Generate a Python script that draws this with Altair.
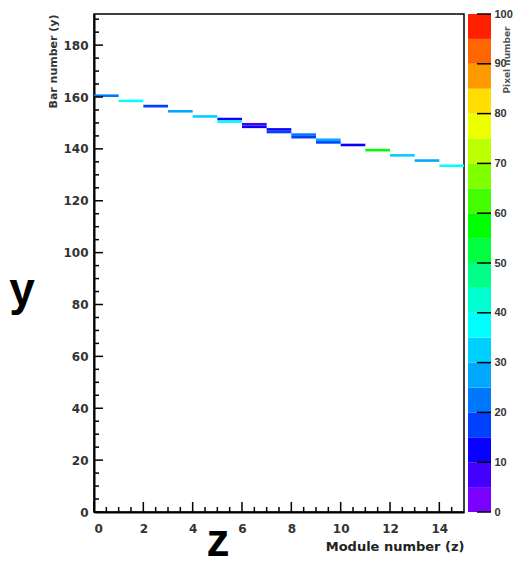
import altair as alt
import pandas as pd

# ---- data ----
modules = [0, 1, 2, 3, 4, 5, 5, 6, 6, 7, 7, 8, 8, 9, 9, 10, 11, 12, 13, 14]
bars = [160, 158, 156, 154, 152, 151, 150, 149, 148, 147, 146, 145, 144, 143, 142, 141, 139, 137, 135, 133]
pixels = [22, 36, 16, 27, 32, 12, 36, 7, 14, 13, 17, 22, 16, 27, 17, 11, 57, 31, 28, 38]

level_lo = [0, 5, 10, 15, 20, 25, 30, 35, 40, 45, 50, 55, 60, 65, 70, 75, 80, 85, 90, 95]
level_colors = ["#7a00ff", "#4400ff", "#0a00ff", "#0040ff", "#0077ff", "#00a8ff", "#00d0ff",
                "#00ffff", "#00ffd0", "#00ff88", "#00ff40", "#00ff00", "#44ff00", "#80ff00",
                "#bbff00", "#eeff00", "#ffdd00", "#ff9900", "#ff6600", "#ff2000"]

x_major_ticks = [0, 2, 4, 6, 8, 10, 12, 14]
x_minor_ticks = [0.5, 1, 1.5, 2.5, 3, 3.5, 4.5, 5, 5.5, 6.5, 7, 7.5, 8.5, 9, 9.5,
                 10.5, 11, 11.5, 12.5, 13, 13.5, 14.5]
y_major_ticks = [0, 20, 40, 60, 80, 100, 120, 140, 160, 180]
y_minor_ticks = [v for v in range(5, 192, 5) if v % 20 != 0]
cbar_ticks = [0, 10, 20, 30, 40, 50, 60, 70, 80, 90, 100]

W, H = 370, 498
FONT = "DejaVu Sans"

cells = pd.DataFrame({
    "z": modules,
    "z2": [m + 1 for m in modules],
    "y": bars,
    "y2": [b + 1 for b in bars],
    "v": pixels,
})
levels = pd.DataFrame({
    "lo": level_lo,
    "hi": [l + 5 for l in level_lo],
    "c": level_colors,
})

xscale = alt.Scale(domain=[0, 15], nice=False, zero=False)
yscale = alt.Scale(domain=[0, 192], nice=False, zero=False)

xaxis = alt.Axis(values=x_major_ticks, format="d", title="Module number (z)", titleAnchor="end",
                 titleFont=FONT, titleFontSize=13, titleFontWeight="bold", titleColor="#222",
                 titlePadding=6,
                 labelFont=FONT, labelFontSize=12, labelFontWeight="bold", labelColor="#333",
                 labelPadding=11, tickSize=0, domainColor="black", domainWidth=2, grid=False)
yaxis = alt.Axis(values=y_major_ticks, format="d", title="Bar number (y)", titleAnchor="end",
                 titleFont=FONT, titleFontSize=11, titleFontWeight="bold", titleColor="#333",
                 titlePadding=4,
                 labelFont=FONT, labelFontSize=12, labelFontWeight="bold", labelColor="#333",
                 labelPadding=6, tickSize=0, domainColor="black", domainWidth=2, grid=False)

heat = alt.Chart(cells).mark_rect().encode(
    x=alt.X("z:Q", scale=xscale, axis=xaxis),
    x2="z2:Q",
    y=alt.Y("y:Q", scale=yscale, axis=yaxis),
    y2="y2:Q",
    color=alt.Color("v:Q", scale=alt.Scale(type="threshold", domain=level_lo[1:], range=level_colors),
                    legend=None),
)

def xticks(vals, length):
    return alt.Chart(pd.DataFrame({"z": vals})).mark_rule(color="black", strokeWidth=1.5).encode(
        x=alt.X("z:Q", scale=xscale, axis=xaxis),
        y=alt.value(H), y2=alt.value(H - length))

def yticks(vals, length):
    return alt.Chart(pd.DataFrame({"y": vals})).mark_rule(color="black", strokeWidth=1.5).encode(
        y=alt.Y("y:Q", scale=yscale, axis=yaxis),
        x=alt.value(0), x2=alt.value(length))

big_y = alt.Chart(pd.DataFrame({"t": ["y"]})).mark_text(
    fontSize=46, fontWeight="bold", font="Liberation Sans", align="center", baseline="alphabetic",
    color="black"
).encode(x=alt.value(-72), y=alt.value(291), text="t:N")
big_z = alt.Chart(pd.DataFrame({"t": ["z"]})).mark_text(
    fontSize=46, fontWeight="bold", font="Liberation Sans", align="center", baseline="alphabetic",
    color="black"
).encode(x=alt.value(124), y=alt.value(542), text="t:N")

main = alt.layer(
    heat,
    xticks(x_major_ticks, 10), xticks(x_minor_ticks, 5),
    yticks(y_major_ticks, 9), yticks(y_minor_ticks, 5),
    big_y, big_z,
).properties(width=W, height=H, view=alt.ViewBackground(stroke="black", strokeWidth=1.5))

cbscale = alt.Scale(domain=[0, 100], nice=False)
cbaxis = alt.Axis(orient="right", values=cbar_ticks, format="d", tickSize=0, domain=False,
                  labelPadding=3, labelFont="Liberation Sans", labelFontSize=11,
                  labelFontWeight="bold", labelColor="#333",
                  title="Pixel number", titleAngle=270, titleAnchor="end", titleFont=FONT,
                  titleFontSize=9, titleFontWeight="bold", titleColor="#555",
                  titlePadding=-1, titleY=12, grid=False)
cbar = alt.Chart(levels).mark_rect().encode(
    y=alt.Y("lo:Q", scale=cbscale, axis=cbaxis),
    y2="hi:Q",
    color=alt.Color("c:N", scale=None),
)
cbar_t = alt.Chart(pd.DataFrame({"lo": cbar_ticks})).mark_rule(color="black", strokeWidth=1.5).encode(
    y=alt.Y("lo:Q", scale=cbscale, axis=cbaxis),
    x=alt.value(9), x2=alt.value(23),
)
colorbar = alt.layer(cbar, cbar_t).properties(
    width=23, height=H, view=alt.ViewBackground(stroke=None))

chart = alt.hconcat(main, colorbar, spacing=4, bounds="flush").configure(
    padding=0, font=FONT
).configure_view(strokeWidth=0)

chart.save("out.html", embed_options={"renderer": "svg", "actions": False})
